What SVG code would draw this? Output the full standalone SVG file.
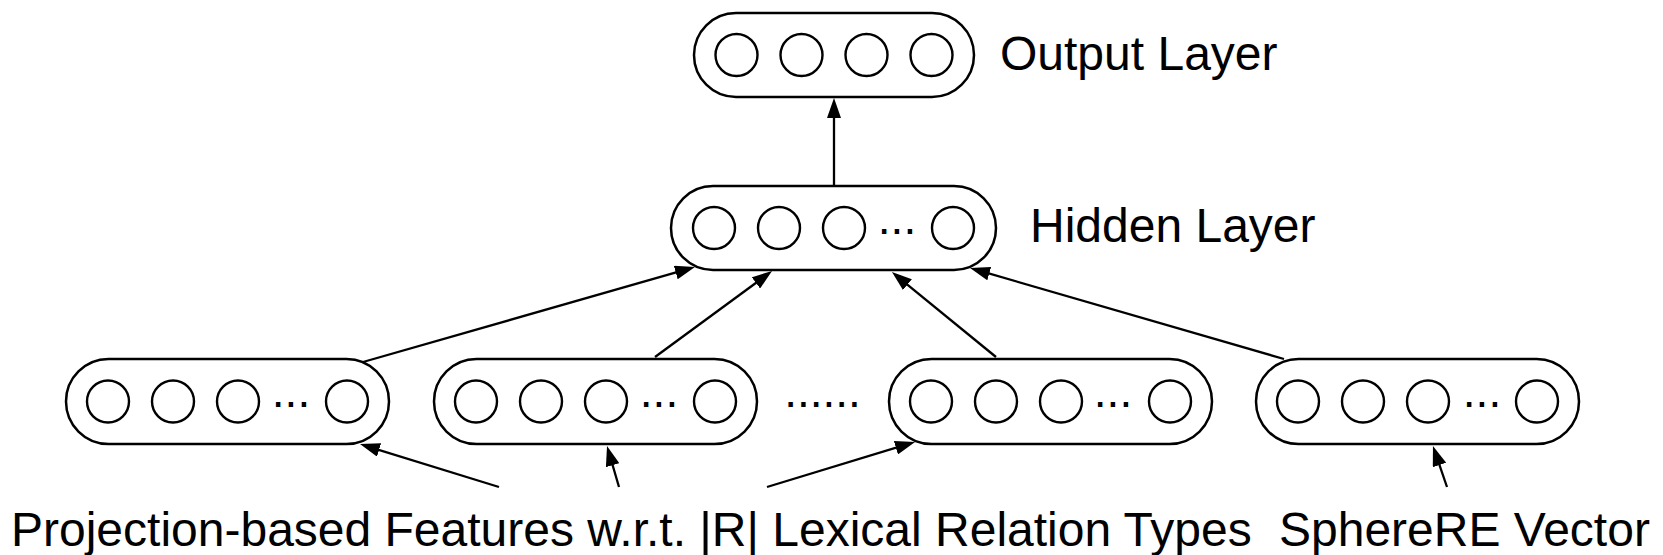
<svg xmlns="http://www.w3.org/2000/svg" width="1663" height="555" viewBox="0 0 1663 555">
<style>
.box{fill:none;stroke:#000;stroke-width:2.5}
.u{fill:none;stroke:#000;stroke-width:2.4}
.lbl{font-family:"Liberation Sans",Arial,sans-serif;font-size:48px;fill:#000}
.dots{font-family:"Liberation Sans",Arial,sans-serif;font-size:46px;fill:#000;text-anchor:middle}
.edge{stroke:#000;stroke-width:2.3;fill:none;marker-end:url(#ah)}
</style>
<defs>
<marker id="ah" viewBox="0 0 20 14" refX="14" refY="7" markerWidth="20" markerHeight="14" markerUnits="userSpaceOnUse" orient="auto">
<path d="M0,0 L20,7 L0,14 z" fill="#000"/>
</marker>
</defs>
<rect width="1663" height="555" fill="#fff"/>
<g id="output-layer">
<rect class="box" x="694" y="13" width="280" height="84" rx="42"/>
<circle class="u" cx="736.5" cy="55" r="21"/>
<circle class="u" cx="801.5" cy="55" r="21"/>
<circle class="u" cx="866.5" cy="55" r="21"/>
<circle class="u" cx="931.5" cy="55" r="21"/>
<text class="lbl" x="1000" y="70">Output Layer</text>
</g>
<g id="hidden-layer">
<rect class="box" x="671" y="186" width="325" height="84" rx="42"/>
<circle class="u" cx="714" cy="228" r="21"/>
<circle class="u" cx="779" cy="228" r="21"/>
<circle class="u" cx="844" cy="228" r="21"/>
<text class="dots" x="897" y="234">...</text>
<circle class="u" cx="953" cy="228" r="21"/>
<text class="lbl" x="1030" y="242">Hidden Layer</text>
</g>
<g id="input-1">
<rect class="box" x="66" y="359" width="323" height="85" rx="42.5"/>
<circle class="u" cx="108" cy="401.5" r="21"/>
<circle class="u" cx="173" cy="401.5" r="21"/>
<circle class="u" cx="238" cy="401.5" r="21"/>
<text class="dots" x="291" y="407">...</text>
<circle class="u" cx="347" cy="401.5" r="21"/>
</g>
<g id="input-2">
<rect class="box" x="434" y="359" width="323" height="85" rx="42.5"/>
<circle class="u" cx="476" cy="401.5" r="21"/>
<circle class="u" cx="541" cy="401.5" r="21"/>
<circle class="u" cx="606" cy="401.5" r="21"/>
<text class="dots" x="659" y="407">...</text>
<circle class="u" cx="715" cy="401.5" r="21"/>
</g>
<g id="ellipsis">
<text class="dots" x="822.5" y="407">......</text>
</g>
<g id="input-3">
<rect class="box" x="889" y="359" width="323" height="85" rx="42.5"/>
<circle class="u" cx="931" cy="401.5" r="21"/>
<circle class="u" cx="996" cy="401.5" r="21"/>
<circle class="u" cx="1061" cy="401.5" r="21"/>
<text class="dots" x="1113" y="407">...</text>
<circle class="u" cx="1170" cy="401.5" r="21"/>
</g>
<g id="input-4">
<rect class="box" x="1256" y="359" width="323" height="85" rx="42.5"/>
<circle class="u" cx="1298" cy="401.5" r="21"/>
<circle class="u" cx="1363" cy="401.5" r="21"/>
<circle class="u" cx="1428" cy="401.5" r="21"/>
<text class="dots" x="1482" y="407">...</text>
<circle class="u" cx="1537" cy="401.5" r="21"/>
</g>
<g id="label-projection">
<text class="lbl" x="11" y="546">Projection-based Features w.r.t. |R| Lexical Relation Types</text>
</g>
<g id="label-spherere">
<text class="lbl" x="1279" y="546">SphereRE Vector</text>
</g>
<g id="connectors">
<line class="edge" x1="834" y1="185" x2="834" y2="104"/>
<line class="edge" x1="363" y1="362" x2="689.2" y2="268.7"/>
<line class="edge" x1="655" y1="357" x2="767.2" y2="274.6"/>
<line class="edge" x1="996" y1="357" x2="896.6" y2="275.8"/>
<line class="edge" x1="1284" y1="359" x2="975.8" y2="269.7"/>
<line class="edge" x1="499" y1="487" x2="365.7" y2="445.8"/>
<line class="edge" x1="619" y1="487" x2="608.7" y2="451.8"/>
<line class="edge" x1="767" y1="487" x2="909.3" y2="443.7"/>
<line class="edge" x1="1447" y1="487" x2="1434.9" y2="451.7"/>
</g>
</svg>
